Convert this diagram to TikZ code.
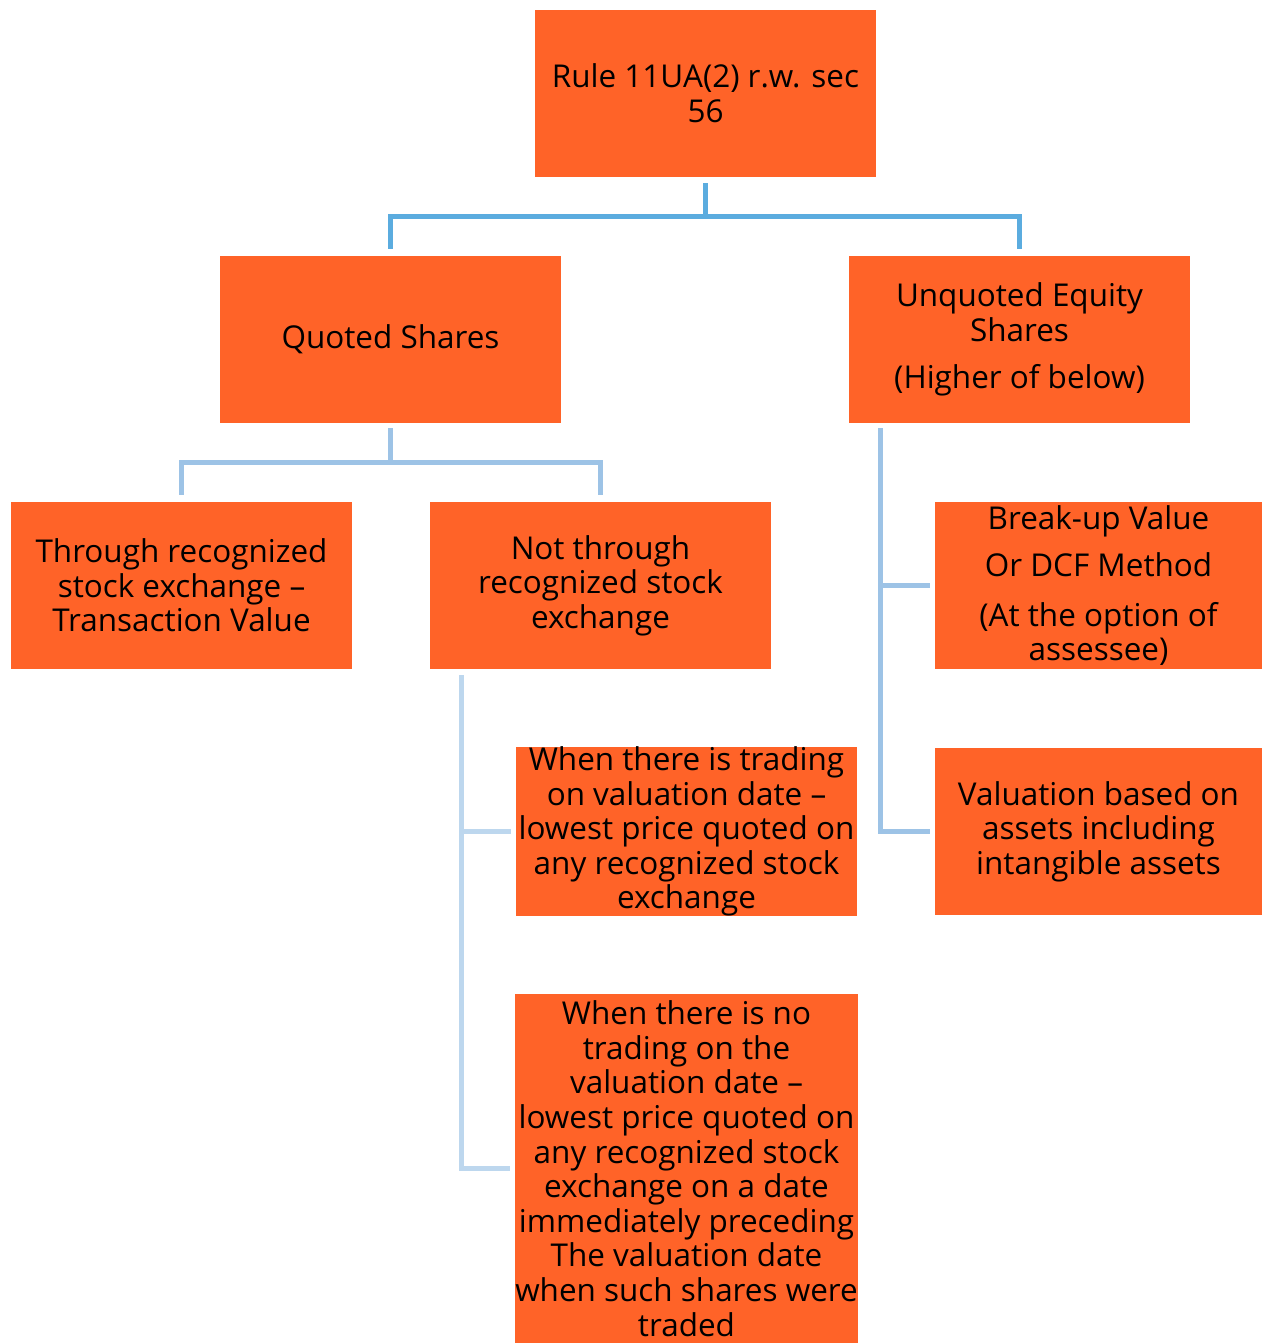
\documentclass[tikz,border=0pt]{standalone}
\usepackage{fontspec}
\setmainfont{Open Sans}
\usepackage{tikz}
\definecolor{boxorange}{HTML}{FF6328}
\definecolor{linkblue}{HTML}{5BACDF}
\definecolor{linkmid}{HTML}{9DC3E6}
\definecolor{linklight}{HTML}{BDD7EE}

\begin{document}
\begin{tikzpicture}[inner sep=0pt,
  box/.style={rectangle, fill=boxorange, minimum width=6.82cm, minimum height=3.34cm, align=center, font=\fontsize{17.9}{19.7}\selectfont},
  linkA/.style={draw=linkblue, line width=2.8pt},
  linkB/.style={draw=linkmid, line width=2.8pt},
  linkC/.style={draw=linklight, line width=2.8pt}]
\useasboundingbox (0,0) rectangle (25.24,-26.86);
\node (rule) at (14.11,-1.87) [box] {Rule 11UA(2) r.w. sec\\56};
\node (quoted) at (7.81,-6.79) [box] {Quoted Shares};
\node (unquoted) at (20.39,-6.79) [box] {Unquoted Equity\\Shares\\[0.26cm](Higher of below)};
\node (through) at (3.63,-11.71) [box] {Through recognized\\stock exchange --\\Transaction Value};
\node (notthrough) at (12.01,-11.71) [box] {Not through\\recognized stock\\exchange};
\node (breakup) at (21.97,-11.71) [box, minimum width=6.54cm] {Break-up Value\\[0.26cm]Or DCF Method\\[0.3cm](At the option of\\assessee)};
\node (assets) at (21.97,-16.63) [box, minimum width=6.54cm] {Valuation based on\\assets including\\intangible assets};
\node (trading) at (13.73,-16.63) [box] {When there is trading\\on valuation date --\\lowest price quoted on\\any recognized stock\\exchange};
\node (notrading) at (13.73,-23.37) [box, minimum height=6.98cm] {When there is no\\trading on the\\valuation date --\\lowest price quoted on\\any recognized stock\\exchange on a date\\immediately preceding\\The valuation date\\when such shares were\\traded};
\draw[linkA] ([yshift=-0.12cm]rule.south) -- ++(0,-0.66) coordinate (forkA) -| ([yshift=0.14cm]quoted.north);
\draw[linkA] (forkA) -| ([yshift=0.14cm]unquoted.north);
\draw[linkB] ([yshift=-0.1cm]quoted.south) -- ++(0,-0.68) coordinate (forkB) -| ([yshift=0.14cm]through.north);
\draw[linkB] (forkB) -| ([yshift=0.14cm]notthrough.north);
\draw[linkB] ([xshift=0.64cm,yshift=-0.1cm]unquoted.south west) |- ([xshift=-0.1cm]assets.west);
\draw[linkB] ([xshift=0.64cm,yshift=-0.1cm]unquoted.south west) |- ([xshift=-0.1cm]breakup.west);
\draw[linkC] ([xshift=0.64cm,yshift=-0.12cm]notthrough.south west) |- ([xshift=-0.1cm]notrading.west);
\draw[linkC] ([xshift=0.64cm,yshift=-0.12cm]notthrough.south west) |- ([xshift=-0.1cm]trading.west);
\end{tikzpicture}
\end{document}
